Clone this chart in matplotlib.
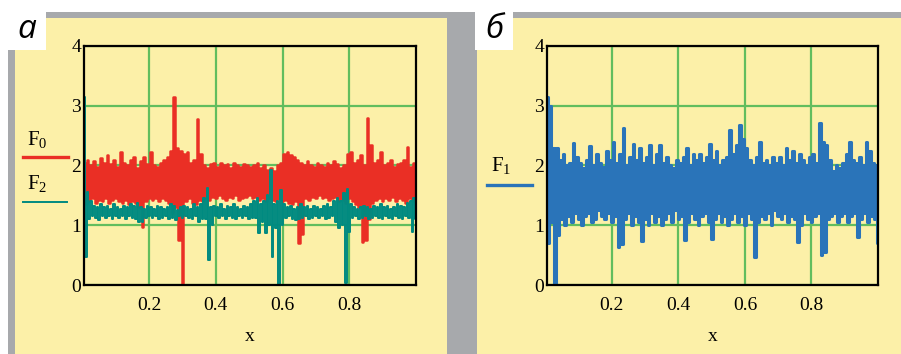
import numpy as np
import matplotlib.pyplot as plt
import matplotlib.patches as patches
from matplotlib.lines import Line2D

plt.rcParams['mathtext.fontset'] = 'custom'
plt.rcParams['mathtext.rm'] = 'Liberation Serif'
plt.rcParams['mathtext.it'] = 'Liberation Serif:italic'

# envelopes, one high/low pair per 0.01 of x
f0_hi = [2.05, 2.10, 2.00, 2.08, 1.98, 2.12, 2.05, 2.18, 2.02, 2.10,
         1.98, 2.23, 2.05, 2.00, 2.10, 2.15, 1.95, 2.08, 2.15, 2.02,
         2.23, 2.00, 1.98, 2.05, 2.10, 2.15, 2.25, 3.15, 2.30, 2.25,
         2.20, 2.22, 2.05, 2.10, 2.78, 2.20, 2.00, 1.95, 2.02, 2.05,
         1.98, 2.05, 2.00, 2.02, 1.95, 2.05, 2.00, 1.98, 2.02, 2.00,
         1.98, 2.00, 2.05, 1.95, 2.00, 1.92, 1.95, 1.90, 2.00, 2.05,
         2.20, 2.22, 2.18, 2.15, 2.10, 2.05, 2.00, 2.08, 2.00, 1.98,
         2.05, 2.00, 1.98, 2.05, 2.00, 2.08, 2.02, 1.95, 2.00, 2.20,
         2.23, 2.05, 2.10, 2.18, 2.00, 2.80, 2.34, 2.05, 2.10, 2.23,
         2.00, 2.05, 2.10, 1.98, 2.02, 2.05, 2.10, 2.31, 1.98, 2.05]
f0_lo = [1.35, 1.40, 1.45, 1.38, 1.42, 1.40, 1.45, 1.38, 1.42, 1.45,
         1.40, 1.38, 1.42, 1.35, 1.40, 1.38, 1.30, 0.97, 1.40, 1.45,
         1.42, 1.45, 1.40, 1.45, 1.42, 1.38, 1.20, 1.30, 0.75, 0.00,
         1.40, 1.45, 1.38, 1.35, 1.42, 1.40, 1.45, 1.42, 1.48, 1.45,
         1.50, 1.45, 1.42, 1.48, 1.45, 1.50, 1.42, 1.45, 1.48, 1.50,
         1.45, 1.48, 1.42, 1.45, 1.40, 1.45, 1.42, 1.40, 1.45, 1.40,
         1.42, 1.38, 1.35, 1.40, 0.70, 0.85, 1.45, 1.42, 1.48, 1.45,
         1.50, 1.45, 1.48, 1.42, 1.45, 1.48, 1.40, 1.42, 1.38, 1.45,
         1.40, 1.35, 1.30, 0.72, 0.75, 1.10, 1.38, 1.42, 1.45, 1.40,
         1.45, 1.42, 1.48, 1.40, 1.45, 1.42, 1.38, 1.45, 1.40, 1.35]

f2_hi = [3.15, 1.55, 1.40, 1.32, 1.30, 1.35, 1.30, 1.32, 1.28, 1.35,
         1.30, 1.28, 1.33, 1.30, 1.35, 1.32, 1.38, 1.30, 1.28, 1.32,
         1.30, 1.28, 1.32, 1.30, 1.28, 1.30, 1.35, 1.32, 1.25, 1.30,
         1.32, 1.30, 1.28, 1.35, 1.30, 1.35, 1.45, 1.62, 1.30, 1.32,
         1.30, 1.35, 1.28, 1.32, 1.30, 1.35, 1.30, 1.28, 1.33, 1.30,
         1.35, 1.40, 1.45, 1.35, 1.40, 1.50, 1.92, 1.35, 1.40, 1.59,
         1.35, 1.30, 1.32, 1.28, 1.30, 1.35, 1.30, 1.32, 1.28, 1.33,
         1.30, 1.28, 1.32, 1.35, 1.30, 1.40, 1.45, 1.40, 1.54, 1.60,
         1.35, 1.30, 1.28, 1.30, 1.32, 1.30, 1.28, 1.32, 1.30, 1.35,
         1.30, 1.32, 1.28, 1.30, 1.35, 1.32, 1.30, 1.38, 1.40, 1.45]
f2_lo = [0.47, 1.10, 1.15, 1.12, 1.08, 1.15, 1.12, 1.15, 1.10, 1.15,
         1.12, 1.15, 1.10, 1.15, 1.12, 1.10, 1.05, 1.05, 1.12, 1.15,
         1.12, 1.15, 1.10, 1.12, 1.15, 1.10, 1.12, 1.08, 1.15, 1.12,
         1.15, 1.12, 1.10, 1.15, 1.05, 1.10, 1.10, 0.42, 1.00, 1.15,
         1.12, 1.15, 1.10, 1.15, 1.12, 1.10, 1.15, 1.12, 1.15, 1.10,
         1.12, 1.12, 0.87, 1.05, 0.87, 1.00, 0.47, 0.95, 0.00, 1.00,
         1.12, 1.15, 1.10, 1.08, 1.10, 1.12, 1.15, 1.10, 1.12, 1.15,
         1.12, 1.15, 1.10, 1.12, 1.15, 1.05, 0.95, 1.00, 0.03, 0.88,
         1.12, 1.15, 1.10, 1.12, 1.15, 1.10, 1.12, 1.15, 1.12, 1.10,
         1.15, 1.12, 1.10, 1.15, 1.12, 1.10, 1.15, 1.12, 0.88, 1.10]

f1_hi = [3.15, 3.00, 2.30, 2.29, 2.10, 2.20, 2.00, 2.05, 2.37, 2.15,
         2.05, 1.95, 2.10, 2.32, 2.00, 2.20, 2.05, 1.98, 2.25, 2.10,
         2.39, 2.05, 2.20, 2.62, 2.00, 2.15, 2.36, 2.10, 2.30, 2.05,
         2.15, 2.35, 2.00, 2.20, 2.35, 2.05, 2.15, 2.00, 1.95, 2.10,
         2.05, 2.15, 2.30, 2.00, 2.20, 2.10, 2.20, 2.05, 2.15, 2.36,
         2.10, 2.25, 2.00, 2.10, 2.15, 2.60, 2.20, 2.35, 2.68, 2.45,
         2.30, 2.10, 2.00, 2.15, 2.40, 2.05, 2.10, 2.00, 2.15, 2.05,
         2.15, 2.00, 2.30, 2.10, 2.25, 2.05, 2.20, 2.10, 2.00, 2.15,
         2.20, 2.05, 2.71, 2.40, 2.35, 2.10, 1.90, 2.00, 1.95, 2.05,
         2.20, 2.40, 2.10, 2.05, 2.15, 2.00, 2.40, 2.25, 2.05, 2.00]
f1_lo = [0.70, 1.05, 0.00, 0.83, 1.10, 1.00, 1.15, 1.05, 1.20, 1.10,
         1.00, 1.15, 1.20, 1.05, 1.10, 1.25, 1.15, 1.10, 1.20, 1.05,
         1.15, 0.64, 0.68, 1.10, 1.20, 1.00, 1.15, 1.05, 0.73, 1.10,
         1.00, 1.20, 1.05, 1.15, 1.00, 1.10, 1.20, 1.05, 1.25, 1.10,
         1.15, 0.75, 1.05, 1.20, 1.10, 1.00, 1.15, 1.20, 1.05, 0.77,
         1.10, 1.20, 1.05, 1.15, 1.00, 1.10, 1.20, 1.05, 1.15, 1.00,
         1.20, 1.10, 0.47, 1.05, 1.15, 1.10, 1.20, 1.00, 1.25, 1.15,
         1.10, 1.20, 1.05, 1.15, 1.10, 0.72, 1.00, 1.20, 1.10, 1.05,
         1.15, 1.20, 0.50, 0.55, 1.10, 1.15, 1.20, 1.05, 1.15, 1.20,
         1.05, 1.15, 1.20, 0.80, 1.10, 1.20, 1.05, 1.15, 1.10, 0.70]

xticks = [0.2, 0.4, 0.6, 0.8]
xtick_labels = ["0.2", "0.4", "0.6", "0.8"]
yticks = [0, 1, 2, 3, 4]

YELLOW = "#fcf0a8"
GREY = "#a7a9ac"
GREEN = "#62bd5e"
RED = "#ea2f25"
TEAL = "#008a80"
BLUE = "#2a74b9"
SERIF = "Liberation Serif"

W, H = 901, 354


def zigzag(hi, lo):
    return np.column_stack([hi, lo]).ravel()


xs = np.arange(1, 201) / 200.0

fig = plt.figure(figsize=(W / 100, H / 100), dpi=100)
fig.patch.set_facecolor("white")


def rect(x0, y0, x1, y1, color):
    fig.add_artist(patches.Rectangle((x0 / W, 1 - y1 / H), (x1 - x0) / W, (y1 - y0) / H,
                                     transform=fig.transFigure, facecolor=color,
                                     edgecolor="none", zorder=0))


rect(8, 12, 901, 354, GREY)
rect(15, 18, 447, 354, YELLOW)
rect(477, 18, 901, 354, YELLOW)
rect(8, 12, 46, 50, "white")
rect(475, 12, 513, 50, "white")

fig.text(27 / W, 1 - 30 / H, "а", fontsize=24, style="italic", family="Open Sans",
         ha="center", va="center")
fig.text(494 / W, 1 - 30 / H, "б", fontsize=24, style="italic", family="Open Sans",
         ha="center", va="center")


def make_axes(left, right):
    ax = fig.add_axes([left / W, 1 - 285 / H, (right - left) / W, (285 - 46) / H])
    ax.set_facecolor(YELLOW)
    ax.set_xlim(0.005, 1.0)
    ax.set_ylim(0, 4)
    ax.set_xticks(xticks, xtick_labels)
    ax.set_yticks(yticks)
    ax.tick_params(length=0, labelsize=14)
    ax.tick_params(axis="x", pad=9)
    ax.tick_params(axis="y", pad=2)
    for lab in ax.get_xticklabels() + ax.get_yticklabels():
        lab.set_fontfamily(SERIF)
    ax.grid(color=GREEN, lw=1.6)
    ax.set_axisbelow(True)
    for sp in ax.spines.values():
        sp.set_linewidth(1.6)
        sp.set_color("black")
    ax.set_xlabel("x", fontsize=14, family=SERIF, labelpad=10)
    return ax


ax1 = make_axes(84, 416)
ax1.plot(xs, zigzag(f0_hi, f0_lo), color=RED, lw=1.8, drawstyle="steps-mid")
ax1.plot(xs, zigzag(f2_hi, f2_lo), color=TEAL, lw=1.4, drawstyle="steps-mid")

ax2 = make_axes(547, 878)
ax2.plot(xs, zigzag(f1_hi, f1_lo), color=BLUE, lw=2.2, drawstyle="steps-mid")


def legend_entry(x0, x1, ty, ly, label, color, lw):
    fig.text((x0 + 4) / W, 1 - ty / H, label, fontsize=15, ha="left", va="center")
    fig.add_artist(Line2D([x0 / W, x1 / W], [1 - ly / H, 1 - ly / H], color=color, lw=lw,
                          transform=fig.transFigure))


legend_entry(23, 68, 139, 157.5, r"$\mathrm{F}_0$", RED, 2.4)
legend_entry(23, 67, 184, 202, r"$\mathrm{F}_2$", TEAL, 1.4)
legend_entry(487, 532, 166, 185, r"$\mathrm{F}_1$", BLUE, 2.4)

fig.savefig("out.png", dpi=100)
